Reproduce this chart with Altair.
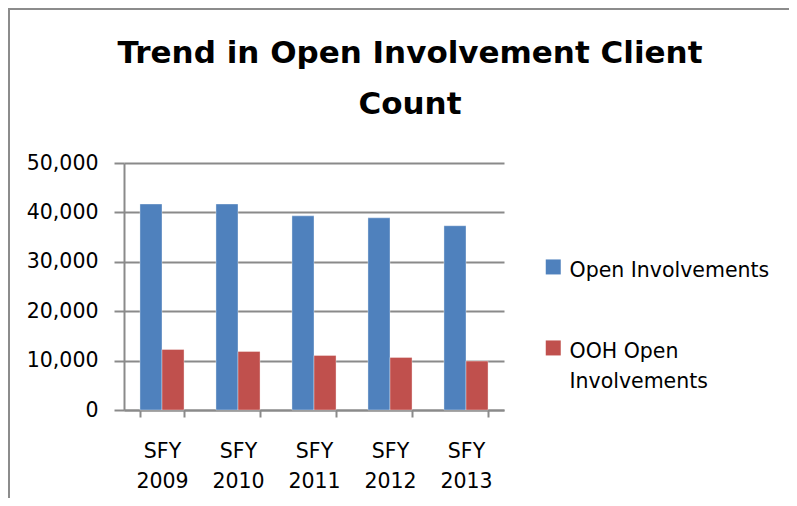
import altair as alt
import pandas as pd

years = ["SFY 2009", "SFY 2010", "SFY 2011", "SFY 2012", "SFY 2013"]
series_names = ["Open Involvements", "OOH Open Involvements"]
open_involvements = [41700, 41700, 39300, 38900, 37300]
ooh_open_involvements = [12250, 11850, 11050, 10650, 9900]
y_ticks = [0, 10000, 20000, 30000, 40000, 50000]
colors = ["#4F81BD", "#C0504D"]

rows = []
for i, yr in enumerate(years):
    rows.append({"year": yr, "series": series_names[0], "value": open_involvements[i]})
    rows.append({"year": yr, "series": series_names[1], "value": ooh_open_involvements[i]})
df = pd.DataFrame(rows)

FONT = "DejaVu Sans"
GRID = "#8a8a8a"
W, H = 380, 247

bars = alt.Chart(df).mark_bar(stroke="#ffffff", strokeWidth=0.6, strokeOpacity=0.6).encode(
    x=alt.X("year:N", sort=years, title=None,
            scale=alt.Scale(paddingInner=0.42, paddingOuter=0.21),
            axis=alt.Axis(labelExpr="split(datum.label, ' ')", labelAngle=0,
                          labelFont=FONT, labelFontSize=20.5, labelColor="#000000",
                          labelBaseline="top", labelLineHeight=30, labelPadding=24,
                          tickBand="extent", tickSize=7, tickColor=GRID, tickWidth=2,
                          domainColor=GRID, domainWidth=2, grid=False)),
    xOffset=alt.XOffset("series:N", sort=series_names,
                        scale=alt.Scale(domain=series_names, paddingInner=0, paddingOuter=0)),
    y=alt.Y("value:Q", title=None,
            scale=alt.Scale(domain=[0, 50000], nice=False),
            axis=alt.Axis(values=y_ticks, format=",d", labelFont=FONT, labelFontSize=20.5,
                          labelColor="#000000", labelPadding=16, tickSize=10, tickColor=GRID,
                          tickWidth=2, domainColor=GRID, domainWidth=2, grid=True,
                          gridColor=GRID, gridWidth=2, gridOpacity=1)),
    color=alt.Color("series:N", sort=series_names,
                    scale=alt.Scale(domain=series_names, range=colors),
                    legend=alt.Legend(
                        title=None, orient="none", legendX=419, legendY=88,
                        symbolType="M-1,-0.24H1V1.76H-1Z", symbolSize=225,
                        symbolStrokeWidth=0, symbolOpacity=1,
                        labelFont=FONT, labelFontSize=20.5, labelColor="#000000",
                        labelBaseline="top", labelOffset=6,
                        labelLimit=400, rowPadding=50,
                        labelExpr="datum.label == 'OOH Open Involvements' ? ['OOH Open', 'Involvements'] : datum.label")),
)

border_df = pd.DataFrame({"k": [0]})
left_border = alt.Chart(border_df).mark_rule(color="#8c8c8c", strokeWidth=2).encode(
    x=alt.value(-115), y=alt.value(-156), y2=alt.value(H + 90))
top_border = alt.Chart(border_df).mark_rule(color="#8c8c8c", strokeWidth=2).encode(
    x=alt.value(-116), x2=alt.value(W + 290), y=alt.value(-154))

chart = alt.layer(left_border, top_border, bars).properties(
    width=W, height=H,
    autosize=alt.AutoSizeParams(type="none"),
    padding={"left": 116, "top": 155, "right": 285, "bottom": 88},
    title=alt.TitleParams(text=["Trend in Open Involvement Client", "Count"],
                          font=FONT, fontSize=31, fontWeight="bold", color="#000000",
                          anchor="middle", dx=96, offset=-115, lineHeight=51),
).configure(view={"stroke": None}, style={"guide-label": {"lineHeight": 30}})

chart.save("out.html", embed_options={"renderer": "svg", "actions": False})
